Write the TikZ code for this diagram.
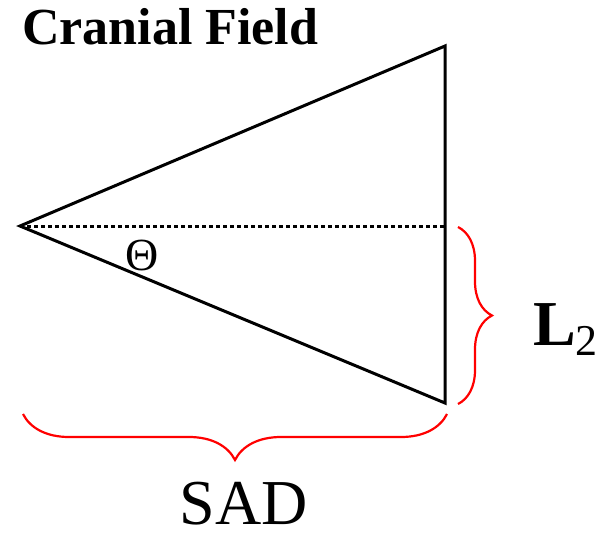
\documentclass[tikz,border=0pt]{standalone}
\usepackage{fontspec}
\setmainfont{Liberation Serif}
\usepackage{tikz}
\usetikzlibrary{positioning, decorations.pathreplacing}

\begin{document}
\begin{tikzpicture}[
    x=1pt, y=-1pt,
    edge/.style={line width=3pt, line join=miter},
    axis/.style={line width=3pt, dash pattern=on 3.5pt off 3.5pt},
    bracket/.style={red, line width=2.2pt, decorate,
                    decoration={brace, amplitude=#1}},
    label/.style={inner sep=0pt, font=\fontsize{64}{64}\selectfont}
]
\useasboundingbox (0,0) rectangle (613,538);

\coordinate (apex)   at (20,226);
\coordinate (top)    at (445,46);
\coordinate (bottom) at (445,403);
\coordinate (mid)    at (445,226);

\draw[edge] (apex) -- (top) -- (bottom) -- cycle;
\draw[axis] (apex) -- (mid);

\node[inner sep=0pt, font=\fontsize{46}{46}\selectfont] (theta) at (142,255) {Θ};

\draw[bracket=34pt] (458,227) -- (458,404);
\draw[bracket=46pt] (447,414) -- (23,414);

\node[anchor=base west, inner sep=0pt, font=\fontsize{52}{52}\selectfont\bfseries]
     (title) at (22,44) {Cranial Field};
\node[label, anchor=base west] (len) at (533,345)
     {\bfseries L\raisebox{-10pt}{\fontsize{44}{44}\mdseries 2}};
\node[label, anchor=base] (sad) at (244,524) {SAD};
\end{tikzpicture}
\end{document}
